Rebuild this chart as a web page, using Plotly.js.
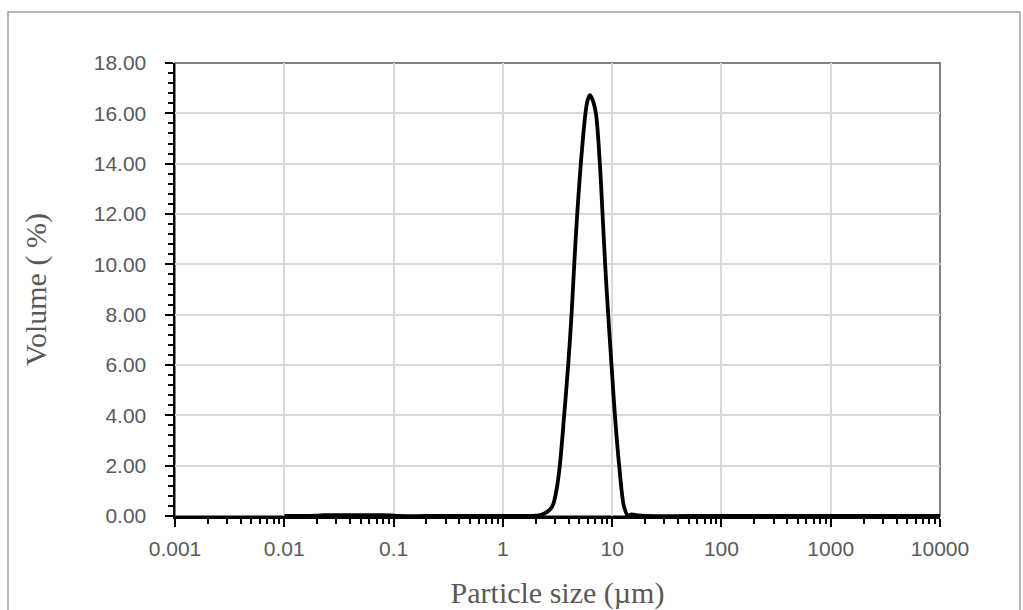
<!DOCTYPE html>
<html>
<head>
<meta charset="utf-8">
<script src="https://cdn.plot.ly/plotly-3.0.1.min.js"></script>
<style>
html,body{margin:0;padding:0;background:#fff;}
#chart{width:1023px;height:610px;}
</style>
</head>
<body>
<div id="chart"></div>
<script>
// Particle size (µm) and volume (%)
const particleSize = [0.01, 0.0115, 0.020, 0.0229, 0.03, 0.04, 0.05, 0.06, 0.07, 0.08, 0.0955, 0.11, 0.2, 0.5, 1.0, 1.5, 2.0, 2.18, 2.4, 2.65, 2.88, 3.1, 3.32, 3.64, 3.96, 4.25, 4.50, 4.79, 5.17, 5.70, 5.95, 6.25, 6.6, 7.10, 7.72, 8.17, 8.63, 9.20, 9.87, 10.6, 11.6, 12.8, 13.9, 15.1, 17.4, 20, 50, 100, 500, 1000, 5000, 10000];
const volumePct    = [0, 0, 0.01, 0.03, 0.03, 0.03, 0.03, 0.03, 0.03, 0.03, 0.02, 0, 0, 0, 0, 0, 0.01, 0.04, 0.10, 0.22, 0.45, 1.05, 2.0, 4.0, 6.0, 8.0, 10.0, 12.0, 14.0, 16.0, 16.5, 16.72, 16.55, 16.0, 14.0, 12.0, 10.0, 8.0, 6.0, 4.0, 2.0, 0.4, 0.02, 0.06, 0.02, 0, 0, 0, 0, 0, 0, 0];

const xTickVals = [0.001, 0.01, 0.1, 1, 10, 100, 1000, 10000];
const xTickText = ["0.001", "0.01", "0.1", "1", "10", "100", "1000", "10000"];
const yTickVals = [0, 2, 4, 6, 8, 10, 12, 14, 16, 18];

const trace = {
  x: particleSize,
  y: volumePct,
  type: 'scatter',
  mode: 'lines',
  line: {color: '#000000', width: 3.8, shape: 'spline', smoothing: 0.9},
  hoverinfo: 'x+y'
};

const tickFont = {family: 'Liberation Sans, Arial, sans-serif', size: 21, color: '#595959'};
const titleFont = {family: 'Liberation Serif, Times New Roman, serif', size: 30, color: '#595959'};

const layout = {
  width: 1023,
  height: 610,
  margin: {l: 175, r: 83, t: 63, b: 94, pad: 0},
  paper_bgcolor: '#ffffff',
  plot_bgcolor: '#ffffff',
  showlegend: false,
  xaxis: {
    type: 'log',
    range: [-3, 4],
    tickmode: 'array',
    tickvals: xTickVals,
    ticktext: xTickText,
    tickfont: tickFont,
    ticks: 'outside',
    ticklen: 8,
    tickwidth: 2,
    tickcolor: '#000',
    ticklabelstandoff: 4,
    showline: true,
    linecolor: '#000',
    linewidth: 2.5,
    showgrid: true,
    gridcolor: '#d9d9d9',
    gridwidth: 2,
    zeroline: false,
    minor: {ticks: 'outside', ticklen: 5, tickwidth: 2, tickcolor: '#000', dtick: 'D1', showgrid: false},
    title: {text: 'Particle size (µm)', font: titleFont, standoff: 24}
  },
  yaxis: {
    range: [0, 18],
    tickmode: 'array',
    tickvals: yTickVals,
    tickformat: '.2f',
    tickfont: tickFont,
    ticks: 'outside',
    ticklen: 8,
    tickwidth: 2,
    tickcolor: '#000',
    ticklabelstandoff: 14,
    showline: true,
    linecolor: '#000',
    linewidth: 2.5,
    showgrid: true,
    gridcolor: '#d9d9d9',
    gridwidth: 2,
    zeroline: false,
    minor: {ticks: 'outside', ticklen: 5, tickwidth: 2, tickcolor: '#000', dtick: 0.4, showgrid: false},
    title: {text: 'Volume ( %)', font: titleFont, standoff: 38}
  },
  shapes: [
    {type: 'rect', xref: 'paper', yref: 'paper', x0: 0, x1: 1, y0: 0, y1: 1,
     line: {color: '#595959', width: 1.5}, layer: 'below'},
    {type: 'rect', xref: 'paper', yref: 'paper', x0: -0.2183, x1: 1.1046, y0: -0.25, y1: 1.1126,
     line: {color: '#a0a0a0', width: 1.5}, layer: 'below'}
  ]
};

Plotly.newPlot('chart', [trace], layout, {displayModeBar: false, staticPlot: true});
</script>
</body>
</html>
